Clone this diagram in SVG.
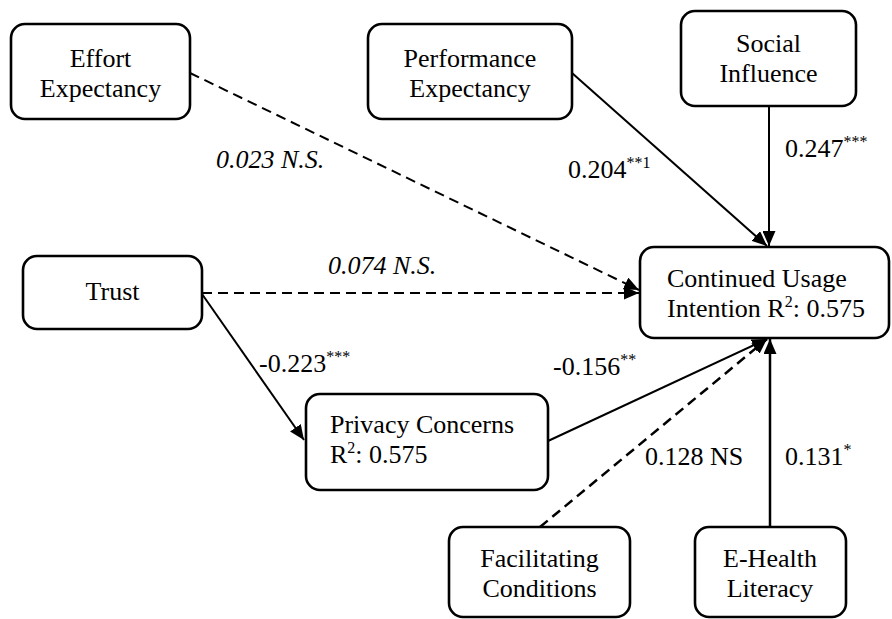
<svg xmlns="http://www.w3.org/2000/svg" width="892" height="619" viewBox="0 0 892 619">
<style>
.box{fill:#fff;stroke:#000;stroke-width:2.6}
.t{font-family:"Liberation Serif","Times New Roman",serif;font-size:26px;fill:#000}
.i{font-style:italic}
.sup{font-size:16px}
.ln{fill:none;stroke:#000;stroke-width:2}
.d{stroke-dasharray:10 6}
.thick{stroke-width:2.5}
</style>
<defs>
<marker id="ah" viewBox="0 0 15 13" refX="15" refY="6.5" markerWidth="15" markerHeight="13" markerUnits="userSpaceOnUse" orient="auto">
<path d="M0,0 L15,6.5 L0,13 z" fill="#000"/>
</marker>
</defs>
<rect width="892" height="619" fill="#fff"/>
<g id="connectors">
<line class="ln d" x1="190" y1="73" x2="639" y2="290" marker-end="url(#ah)"/>
<line class="ln d" x1="202" y1="293" x2="639" y2="293" marker-end="url(#ah)"/>
<line class="ln" x1="572" y1="73" x2="767" y2="246" marker-end="url(#ah)"/>
<line class="ln" x1="769" y1="106" x2="769" y2="246" marker-end="url(#ah)"/>
<line class="ln" x1="202" y1="294" x2="304" y2="440" marker-end="url(#ah)"/>
<line class="ln" x1="548" y1="441" x2="767" y2="339" marker-end="url(#ah)"/>
<line class="ln d thick" x1="540" y1="527" x2="767" y2="339" marker-end="url(#ah)"/>
<line class="ln thick" x1="770" y1="527" x2="770" y2="339" marker-end="url(#ah)"/>
</g>
<g id="labels">
<text class="t i" x="216" y="168">0.023 N.S.</text>
<text class="t i" x="328" y="274">0.074 N.S.</text>
<text class="t" x="568" y="178">0.204<tspan class="sup" dy="-10">**1</tspan></text>
<text class="t" x="785" y="157">0.247<tspan class="sup" dy="-10">***</tspan></text>
<text class="t" x="259" y="372">-0.223<tspan class="sup" dy="-10">***</tspan></text>
<text class="t" x="553" y="375">-0.156<tspan class="sup" dy="-10">**</tspan></text>
<text class="t" x="645" y="465">0.128 NS</text>
<text class="t" x="785" y="465">0.131<tspan class="sup" dy="-10">*</tspan></text>
</g>
<g id="effort">
<rect class="box" x="11" y="24" width="179" height="95" rx="14"/>
<text class="t" x="100.5" y="67" text-anchor="middle">Effort</text>
<text class="t" x="100.5" y="97" text-anchor="middle">Expectancy</text>
</g>
<g id="performance">
<rect class="box" x="368" y="24" width="204" height="95" rx="14"/>
<text class="t" x="470" y="67" text-anchor="middle">Performance</text>
<text class="t" x="470" y="97" text-anchor="middle">Expectancy</text>
</g>
<g id="social">
<rect class="box" x="681" y="11" width="175" height="95" rx="14"/>
<text class="t" x="768.5" y="52" text-anchor="middle">Social</text>
<text class="t" x="768.5" y="82" text-anchor="middle">Influence</text>
</g>
<g id="trust">
<rect class="box" x="23" y="256" width="179" height="73" rx="14"/>
<text class="t" x="112.5" y="300" text-anchor="middle">Trust</text>
</g>
<g id="cui">
<rect class="box" x="640" y="247" width="249" height="91" rx="14"/>
<text class="t" x="667" y="287">Continued Usage</text>
<text class="t" x="667" y="317">Intention R<tspan class="sup" dy="-10">2</tspan><tspan dy="10">: 0.575</tspan></text>
</g>
<g id="privacy">
<rect class="box" x="306" y="394" width="242" height="96" rx="14"/>
<text class="t" x="330" y="433">Privacy Concerns</text>
<text class="t" x="330" y="463">R<tspan class="sup" dy="-10">2</tspan><tspan dy="10">: 0.575</tspan></text>
</g>
<g id="facilitating">
<rect class="box" x="449" y="527" width="181" height="90" rx="14"/>
<text class="t" x="539.5" y="567" text-anchor="middle">Facilitating</text>
<text class="t" x="539.5" y="597" text-anchor="middle">Conditions</text>
</g>
<g id="ehealth">
<rect class="box" x="695" y="527" width="151" height="90" rx="14"/>
<text class="t" x="770" y="567" text-anchor="middle">E-Health</text>
<text class="t" x="770" y="597" text-anchor="middle">Literacy</text>
</g>
</svg>
